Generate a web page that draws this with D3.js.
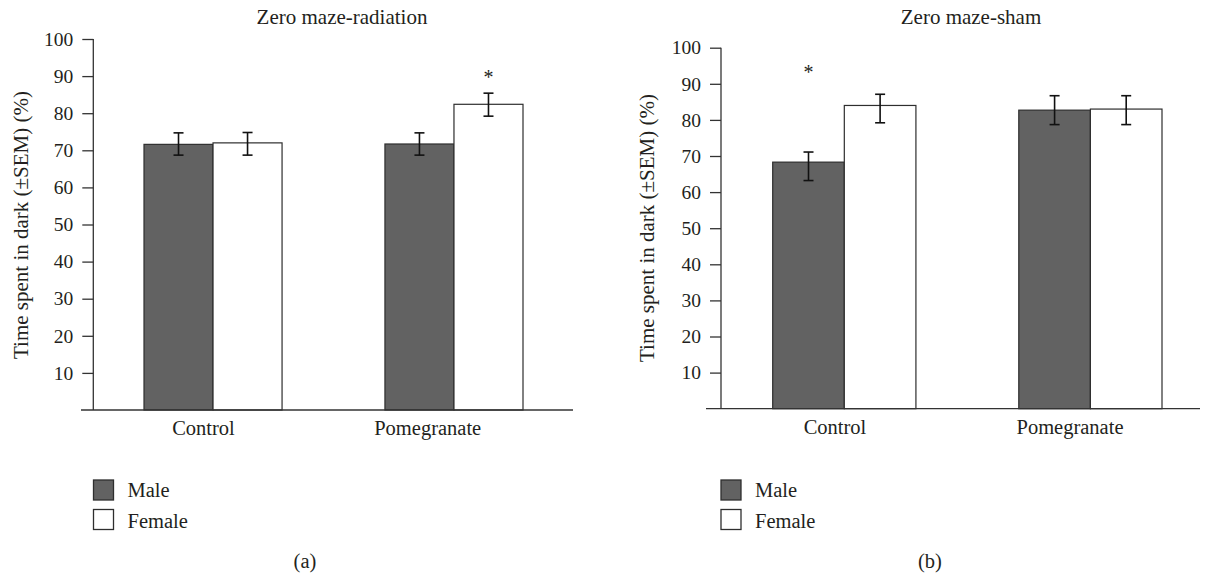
<!DOCTYPE html>
<html>
<head>
<meta charset="utf-8">
<script src="https://cdn.jsdelivr.net/npm/d3@7"></script>
<style>
  body { margin: 0; background: #fff; }
  text { font-family: "Liberation Serif", "Times New Roman", serif; fill: #231f20; }
</style>
</head>
<body>
<svg id="chart" width="1230" height="577"></svg>
<script>
// categories
const groups = ["Control", "Pomegranate"]
const sexes = ["Male", "Female"]
const yTicks = [10, 20, 30, 40, 50, 60, 70, 80, 90, 100]

// (a) zero maze - radiation : means and error bar ends, per group [Control, Pomegranate]
const radiationMale      = [71.6, 71.7]
const radiationFemale    = [72.0, 82.4]
const radiationMaleLo    = [68.7, 68.7]
const radiationMaleHi    = [74.7, 74.7]
const radiationFemaleLo  = [68.7, 79.2]
const radiationFemaleHi  = [74.8, 85.4]
const radiationStars     = [["Pomegranate", "Female", 91.2]]

// (b) zero maze - sham
const shamMale      = [68.3, 82.7]
const shamFemale    = [84.0, 83.0]
const shamMaleLo    = [63.2, 78.7]
const shamMaleHi    = [71.1, 86.7]
const shamFemaleLo  = [79.2, 78.7]
const shamFemaleHi  = [87.1, 86.7]
const shamStars     = [["Control", "Male", 94.7]]

const fills = {Male: "#626262", Female: "#ffffff"}
const svg = d3.select("#chart")

// turn the arrays into rows the bars can use
const makeRows = (male, female, maleLo, maleHi, femaleLo, femaleHi) => {
  let rows = []
  groups.forEach((g, i) => {
    rows.push({group: g, sex: "Male", value: male[i], lo: maleLo[i], hi: maleHi[i]})
    rows.push({group: g, sex: "Female", value: female[i], lo: femaleLo[i], hi: femaleHi[i]})
  })
  return rows
}

const drawPanel = (p, rows, stars) => {
  const g = svg.append("g")
  const y = d3.scaleLinear().domain([0, 100]).range([p.yBottom, p.yTop])
  const x = d3.scaleBand().domain(groups).range(p.barRange).paddingInner(p.pad).paddingOuter(0)
  const xs = d3.scaleBand().domain(sexes).range([0, x.bandwidth()])
  const xl = d3.scalePoint().domain(groups).range(p.labelRange)

  // title
  g.append("text").attr("x", p.titleX).attr("y", 24)
    .attr("text-anchor", "middle").attr("font-size", 21).text(p.title)

  // bars
  g.selectAll("rect.bar").data(rows).join("rect")
    .attr("class", "bar")
    .attr("x", d => x(d.group) + xs(d.sex))
    .attr("y", d => y(d.value))
    .attr("width", xs.bandwidth())
    .attr("height", d => y(0) - y(d.value))
    .attr("fill", d => fills[d.sex])
    .attr("stroke", "#2e2e2e").attr("stroke-width", 1.2)

  // error bars
  const cx = d => x(d.group) + xs(d.sex) + xs.bandwidth() / 2
  const err = g.append("g").attr("stroke", "#111").attr("stroke-width", 1.6)
  err.selectAll("line.v").data(rows).join("line").attr("class", "v")
    .attr("x1", cx).attr("x2", cx)
    .attr("y1", d => y(d.lo)).attr("y2", d => y(d.hi))
  ;["lo", "hi"].forEach(k => {
    err.selectAll("line." + k).data(rows).join("line").attr("class", k)
      .attr("x1", d => cx(d) - 5).attr("x2", d => cx(d) + 5)
      .attr("y1", d => y(d[k])).attr("y2", d => y(d[k]))
  })

  // significance stars
  g.selectAll("text.star").data(stars).join("text").attr("class", "star")
    .attr("x", d => x(d[0]) + xs(d[1]) + xs.bandwidth() / 2)
    .attr("y", d => y(d[2]))
    .attr("dy", "0.62em")
    .attr("text-anchor", "middle").attr("font-size", 20).text("*")

  // y axis
  const yAxis = d3.axisLeft(y).tickValues(yTicks).tickSize(11).tickSizeOuter(0).tickPadding(9)
  const ya = g.append("g").attr("transform", `translate(${p.axisX},0)`).call(yAxis)
  ya.selectAll("path, line").attr("stroke", "#333").attr("stroke-width", 1.3)
  ya.selectAll("text").attr("font-size", 19.5).attr("font-family", null).attr("fill", "#231f20")
  ya.select(".domain").attr("d", `M0,${y(0)}V${y(100)}`)

  // baseline
  g.append("line").attr("x1", p.baseX0).attr("x2", p.baseX1)
    .attr("y1", y(0)).attr("y2", y(0)).attr("stroke", "#333").attr("stroke-width", 1.3)

  // category labels
  g.selectAll("text.cat").data(groups).join("text").attr("class", "cat")
    .attr("x", d => xl(d)).attr("y", y(0) + 25)
    .attr("text-anchor", "middle").attr("font-size", 20.5).text(d => d)

  // y label
  g.append("text")
    .attr("transform", `translate(${p.yLabelX},${p.yLabelY}) rotate(-90)`)
    .attr("text-anchor", "middle").attr("font-size", 21)
    .text("Time spent in dark (\u00b1SEM) (%)")

  // legend
  const lg = g.append("g").attr("transform", `translate(${p.legendX},480)`)
  lg.selectAll("rect").data(sexes).join("rect")
    .attr("x", 0).attr("y", (d, i) => i * 29.5)
    .attr("width", 20).attr("height", 20)
    .attr("fill", d => fills[d]).attr("stroke", "#2e2e2e").attr("stroke-width", 1.3)
  lg.selectAll("text").data(sexes).join("text")
    .attr("x", 34).attr("y", (d, i) => 17 + i * 31)
    .attr("font-size", 20.5).text(d => d)

  // panel caption
  g.append("text").attr("x", p.captionX).attr("y", 568)
    .attr("text-anchor", "middle").attr("font-size", 20.5).text(p.caption)
}

drawPanel({
  title: "Zero maze-radiation", titleX: 342, caption: "(a)", captionX: 305,
  axisX: 93.3, yTop: 39, yBottom: 410, baseX0: 81, baseX1: 573,
  barRange: [144, 523], pad: 0.427, labelRange: [203.5, 427.7],
  yLabelX: 28, yLabelY: 225, legendX: 93.5
}, makeRows(radiationMale, radiationFemale, radiationMaleLo, radiationMaleHi, radiationFemaleLo, radiationFemaleHi), radiationStars)

drawPanel({
  title: "Zero maze-sham", titleX: 971, caption: "(b)", captionX: 930,
  axisX: 721, yTop: 47.7, yBottom: 408.7, baseX0: 706, baseX1: 1200,
  barRange: [772.7, 1162], pad: 0.418, labelRange: [835, 1070],
  yLabelX: 653.5, yLabelY: 228, legendX: 721
}, makeRows(shamMale, shamFemale, shamMaleLo, shamMaleHi, shamFemaleLo, shamFemaleHi), shamStars)
</script>
</body>
</html>
